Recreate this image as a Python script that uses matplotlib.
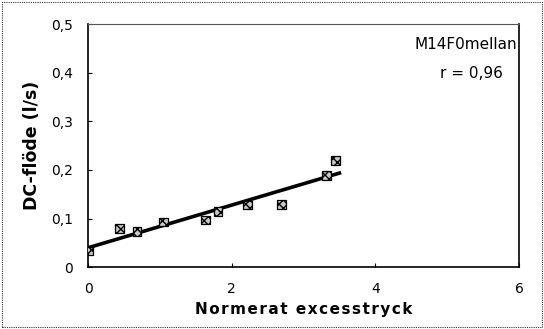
import matplotlib
matplotlib.use("Agg")
import matplotlib.pyplot as plt
import numpy as np
from matplotlib.patches import Rectangle

# Mätpunkter
x_vals = [0.0, 0.44, 0.68, 1.05, 1.63, 1.81, 2.22, 2.69, 3.32, 3.44]
y_vals = [0.033, 0.080, 0.074, 0.093, 0.097, 0.114, 0.128, 0.129, 0.189, 0.220]
x_ticks = [0, 2, 4, 6]
y_ticks = [0, 0.1, 0.2, 0.3, 0.4, 0.5]
y_ticklabels = ["0", "0,1", "0,2", "0,3", "0,4", "0,5"]

fig = plt.figure(figsize=(5.44, 3.29), dpi=100)
ax = fig.add_axes([0.162, 0.188, 0.792, 0.739])

# regressionslinje
k, m = np.polyfit(x_vals, y_vals, 1)
xl = np.array([min(x_vals), 3.5])
ax.plot(xl, k * xl + m, color="black", lw=2.6, zorder=3)

ax.scatter(x_vals, y_vals, marker="s", s=40, facecolor="#c8c8c8",
           edgecolor="black", linewidth=0.9, hatch="xxxx", zorder=4)

ax.set_xlim(0, 6)
ax.set_ylim(0, 0.5)
ax.set_xticks(x_ticks)
ax.set_xticklabels([str(t) for t in x_ticks])
ax.set_yticks(y_ticks)
ax.set_yticklabels(y_ticklabels)
ax.tick_params(direction="in", length=3, labelsize=10, pad=11)

for s in ["left", "bottom", "right"]:
    ax.spines[s].set_linewidth(1.2)
ax.spines["top"].set_linestyle((0, (2, 1)))
ax.spines["top"].set_color("#555555")

# glesa bokstäver som i originalet
xlabel = "\u200a".join("Normerat excesstryck")
ax.set_xlabel(xlabel, fontsize=11, fontweight="bold", labelpad=4)
ax.set_ylabel("DC-flöde (l/s)", fontsize=12.5, fontweight="bold", labelpad=7)

ax.text(0.995, 0.915, "M14F0mellan", transform=ax.transAxes, ha="right",
        va="center", fontsize=11)
ax.text(0.89, 0.795, "r = 0,96", transform=ax.transAxes, ha="center",
        va="center", fontsize=11)

# yttre ram
fig.patches.append(Rectangle((0.004, 0.006), 0.992, 0.988, transform=fig.transFigure,
                             fill=False, edgecolor="#333333", lw=0.8,
                             linestyle=(0, (1, 1))))

fig.savefig("out.png", dpi=100)
